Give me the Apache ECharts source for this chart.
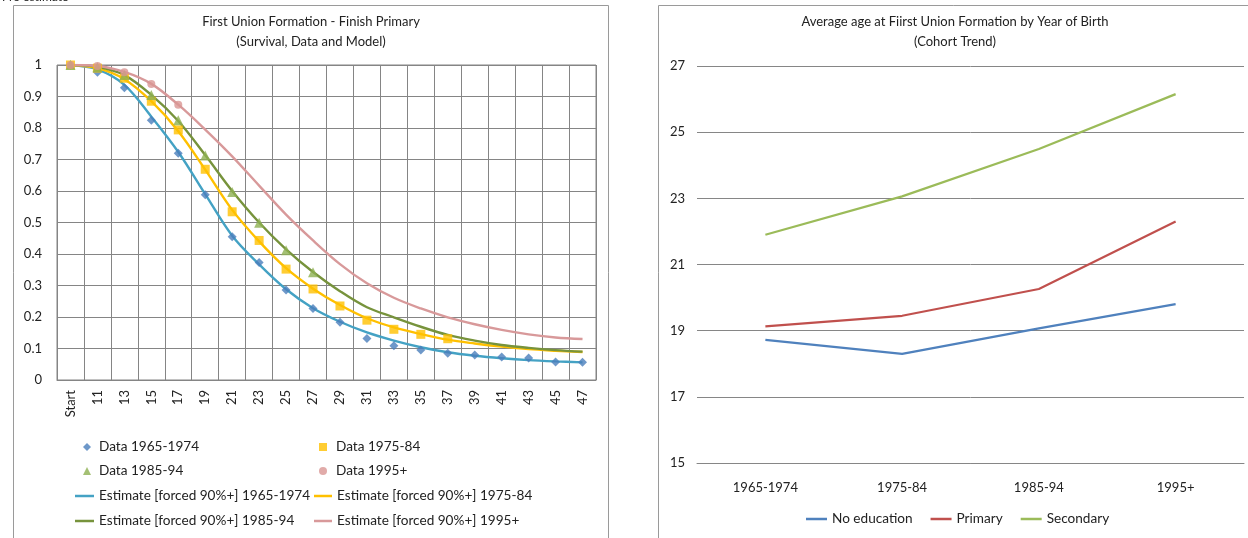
<!DOCTYPE html>
<html>
<head>
<meta charset="utf-8">
<script src="https://cdn.jsdelivr.net/npm/echarts@6/dist/echarts.min.js"></script>
<style>
  html, body { margin: 0; padding: 0; background: #ffffff; }
  #chart { width: 1248px; height: 538px; }
</style>
</head>
<body>
<div id="chart"></div>
<script>
// ---- Survival chart: ages and observed / modelled shares ----
const ageCategories = ['Start', '11', '13', '15', '17', '19', '21', '23', '25', '27',
  '29', '31', '33', '35', '37', '39', '41', '43', '45', '47'];

const data1965 = [1.0, 0.977, 0.928, 0.825, 0.72, 0.588, 0.455, 0.373, 0.286, 0.227,
  0.183, 0.132, 0.109, 0.095, 0.085, 0.079, 0.073, 0.070, 0.057, 0.056];
const data1975 = [1.0, 0.99, 0.958, 0.885, 0.794, 0.669, 0.534, 0.443, 0.352, 0.289,
  0.235, 0.19, 0.161, 0.145, 0.131, '-', '-', '-', '-', '-'];
const data1985 = [1.0, 0.993, 0.968, 0.905, 0.825, 0.713, 0.597, 0.499, 0.412, 0.342,
  '-', '-', '-', '-', '-', '-', '-', '-', '-', '-'];
const data1995 = [1.0, 0.997, 0.977, 0.94, 0.874, '-', '-', '-', '-', '-',
  '-', '-', '-', '-', '-', '-', '-', '-', '-', '-'];

const est1965 = [1.0, 0.986, 0.937, 0.836, 0.724, 0.59, 0.458, 0.367, 0.288, 0.228,
  0.185, 0.151, 0.125, 0.104, 0.088, 0.077, 0.069, 0.063, 0.059, 0.056];
const est1975 = [1.0, 0.99, 0.955, 0.885, 0.79, 0.668, 0.54, 0.44, 0.355, 0.29,
  0.238, 0.196, 0.167, 0.146, 0.128, 0.116, 0.106, 0.098, 0.093, 0.089];
const est1985 = [1.0, 0.994, 0.968, 0.905, 0.822, 0.714, 0.6, 0.5, 0.415, 0.343,
  0.282, 0.231, 0.199, 0.169, 0.143, 0.125, 0.111, 0.102, 0.095, 0.09];
const est1995 = [1.0, 0.997, 0.978, 0.94, 0.874, 0.795, 0.71, 0.617, 0.525, 0.443,
  0.368, 0.307, 0.261, 0.227, 0.199, 0.177, 0.159, 0.145, 0.135, 0.13];

// ---- Cohort trend chart ----
const cohorts = ['1965-1974', '1975-84', '1985-94', '1995+'];
const noEducation = [18.72, 18.3, 19.07, 19.8];
const primary = [19.13, 19.45, 20.26, 22.3];
const secondary = [21.9, 23.06, 24.49, 26.15];

const FONT = 'Lato';
const TXT = '#222222';
const GRID = '#858585';

const dataNames = ['Data 1965-1974', 'Data 1975-84', 'Data 1985-94', 'Data 1995+'];
const estNames = ['Estimate [forced 90%+] 1965-1974', 'Estimate [forced 90%+] 1975-84',
  'Estimate [forced 90%+] 1985-94', 'Estimate [forced 90%+] 1995+'];
const dataColors = ['#4a7ebb', '#ffc000', '#8db051', '#d99694'];
const estColors = ['#44a2c4', '#ffc000', '#77933c', '#d8999a'];
const dataSymbols = ['diamond', 'rect', 'triangle', 'circle'];
const dataSizes = [9, 9, 10, 8];
const dataSets = [data1965, data1975, data1985, data1995];
const estSets = [est1965, est1975, est1985, est1995];

const series = [];
estSets.forEach((d, i) => {
  series.push({
    name: estNames[i], type: 'line', xAxisIndex: 0, yAxisIndex: 0,
    data: d, smooth: 0.35, symbol: 'none',
    lineStyle: { color: estColors[i], width: 2.4 },
    itemStyle: { color: estColors[i] }, z: 2
  });
});
dataSets.forEach((d, i) => {
  series.push({
    name: dataNames[i], type: 'scatter', xAxisIndex: 0, yAxisIndex: 0,
    data: d, symbol: dataSymbols[i], symbolSize: dataSizes[i],
    itemStyle: { color: dataColors[i] }, z: 3
  });
});
const trendColors = ['#4f81bd', '#c0504d', '#9bbb59'];
[['No education', noEducation], ['Primary', primary], ['Secondary', secondary]].forEach((s, i) => {
  series.push({
    name: s[0], type: 'line', xAxisIndex: 1, yAxisIndex: 1, data: s[1],
    symbol: 'none', lineStyle: { color: trendColors[i], width: 2.2 },
    itemStyle: { color: trendColors[i] }
  });
});

// one legend per entry so both columns line up
function legendItem(name, icon, left, top, w, h, pad) {
  return {
    data: [{ name: name, icon: icon }], left: left, top: top, padding: 0,
    itemWidth: w, itemHeight: h, selectedMode: false,
    textStyle: { fontFamily: FONT, fontSize: 13.6, color: TXT, padding: [0, 0, 0, pad] }
  };
}
const rowTops = [440, 464, 489, 514];
const legends = [
  legendItem(dataNames[0], 'diamond', 83, rowTops[0], 8, 8, 3),
  legendItem(dataNames[1], 'rect', 319, rowTops[0], 8, 8, 4),
  legendItem(dataNames[2], 'triangle', 83, rowTops[1], 8, 8, 3),
  legendItem(dataNames[3], 'circle', 319, rowTops[1], 8, 8, 4),
  legendItem(estNames[0], 'rect', 75, rowTops[2], 19, 2.5, 0),
  legendItem(estNames[1], 'rect', 314, rowTops[2], 18, 2.5, 0),
  legendItem(estNames[2], 'rect', 75, rowTops[3], 19, 2.5, 0),
  legendItem(estNames[3], 'rect', 314, rowTops[3], 18, 2.5, 0),
  {
    data: [{ name: 'No education', icon: 'rect' }, { name: 'Primary', icon: 'rect' },
      { name: 'Secondary', icon: 'rect' }],
    left: 806, top: 512, padding: 0, itemWidth: 21, itemHeight: 2.5, itemGap: 18,
    selectedMode: false,
    textStyle: { fontFamily: FONT, fontSize: 13.6, color: TXT }
  }
];

const option = {
  animation: false,
  backgroundColor: '#ffffff',
  textStyle: { fontFamily: FONT },
  title: [
    {
      text: 'First Union Formation - Finish Primary\n(Survival, Data and Model)',
      left: 311, top: 12, textAlign: 'center', padding: 0,
      textStyle: { fontFamily: FONT, fontSize: 13, fontWeight: 'normal', color: TXT, lineHeight: 20 }
    },
    {
      text: 'Average age at Fiirst Union Formation by Year of Birth\n(Cohort Trend)',
      left: 955, top: 12, textAlign: 'center', padding: 0,
      textStyle: { fontFamily: FONT, fontSize: 13, fontWeight: 'normal', color: TXT, lineHeight: 20 }
    }
  ],
  legend: legends,
  graphic: [
    { type: 'rect', shape: { x: 13.5, y: 5.5, width: 595, height: 560 },
      style: { fill: 'none', stroke: '#9a9a9a', lineWidth: 1 }, silent: true },
    { type: 'rect', shape: { x: 658.5, y: 5.5, width: 620, height: 560 },
      style: { fill: 'none', stroke: '#9a9a9a', lineWidth: 1 }, silent: true },
    { type: 'text', left: 2, top: -9,
      style: { text: 'Pro estimate', font: '12px ' + FONT, fill: TXT }, silent: true }
  ],
  grid: [
    { left: 57, top: 65, width: 539, height: 315, show: true, borderColor: GRID, borderWidth: 1 },
    { left: 697, top: 66, width: 547, height: 397 }
  ],
  xAxis: [
    {
      type: 'category', gridIndex: 0, data: ageCategories, boundaryGap: true,
      axisLine: { lineStyle: { color: GRID } }, axisTick: { show: false },
      splitLine: { show: true, interval: 0, lineStyle: { color: GRID, width: 1 } },
      axisLabel: { rotate: 90, interval: 0, margin: 10, fontFamily: FONT, fontSize: 13, color: TXT }
    },
    {
      type: 'category', gridIndex: 1, data: cohorts, boundaryGap: true,
      axisLine: { lineStyle: { color: '#868686' } }, axisTick: { show: false },
      axisLabel: { margin: 18, fontFamily: FONT, fontSize: 13, color: TXT }
    }
  ],
  yAxis: [
    {
      type: 'value', gridIndex: 0, min: 0, max: 1, interval: 0.1,
      axisLine: { show: false }, axisTick: { show: false },
      splitLine: { lineStyle: { color: GRID, width: 1 } },
      axisLabel: { margin: 15, fontFamily: FONT, fontSize: 13, color: TXT }
    },
    {
      type: 'value', gridIndex: 1, min: 15, max: 27, interval: 2,
      axisLine: { show: false }, axisTick: { show: false },
      splitLine: { lineStyle: { color: '#868686', width: 1 } },
      axisLabel: { margin: 12, fontFamily: FONT, fontSize: 13, color: TXT }
    }
  ],
  series: series
};

const chart = echarts.init(document.getElementById('chart'), null, { renderer: 'canvas' });
chart.setOption(option);
</script>
</body>
</html>
